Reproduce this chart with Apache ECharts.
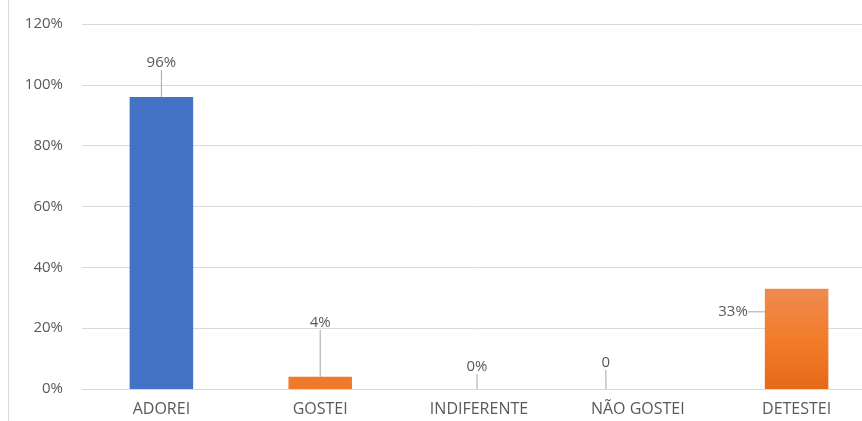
<!DOCTYPE html>
<html>
<head>
<meta charset="utf-8">
<script src="https://cdn.jsdelivr.net/npm/echarts@6/dist/echarts.min.js"></script>
<style>
  html, body { margin: 0; padding: 0; background: #fff; }
  #chart { width: 862px; height: 421px; }
</style>
</head>
<body>
<div id="chart"></div>
<script>
// categorias e valores (fração)
var categories = ["ADOREI", "GOSTEI", "INDIFERENTE", "NÃO GOSTEI", "DETESTEI"];
var values = [0.96, 0.04, 0, 0, 0.33];
var labelTexts = ["96%", "4%", "0%", "0", "33%"];

var blue = "#4472C4";
var orange = "#F07A2C";

var chart = echarts.init(document.getElementById("chart"));

// deslocamento dos rótulos (como no original, com linha de chamada)
var labelShift = [
  { dx: 0, dy: -22 },
  { dx: 0, dy: -42 },
  { dx: -2, dy: -10 },
  { dx: -32, dy: -14 },
  { dx: -12, dy: -27 }
];

var barData = values.map(function (v, i) {
  var item = { value: v };
  if (i === 0) {
    item.itemStyle = { color: blue };
  } else if (i === 4) {
    item.itemStyle = {
      color: new echarts.graphic.LinearGradient(0, 0, 0, 1, [
        { offset: 0, color: "#EF8A50" },
        { offset: 0.5, color: "#F27C2A" },
        { offset: 1, color: "#E66A18" }
      ])
    };
    item.label = { position: "left" };
  } else {
    item.itemStyle = { color: orange };
  }
  return item;
});

chart.setOption({
  backgroundColor: "#fff",
  textStyle: { fontFamily: "Open Sans" },
  grid: { left: 82, width: 794, top: 24, bottom: 32, outerBoundsMode: "none", containLabel: false },
  graphic: [
    {
      type: "line",
      shape: { x1: 8.5, y1: 0, x2: 8.5, y2: 421 },
      style: { stroke: "#D9D9D9", lineWidth: 1 }
    }
  ],
  xAxis: {
    type: "category",
    data: categories,
    axisLine: { show: true, lineStyle: { color: "#D9D9D9" } },
    axisTick: { show: false },
    axisLabel: { color: "#595959", fontSize: 16, margin: 12 }
  },
  yAxis: {
    type: "value",
    min: 0,
    max: 1.2,
    interval: 0.2,
    axisLine: { show: false },
    axisTick: { show: false },
    splitLine: { lineStyle: { color: "#D9D9D9" } },
    axisLabel: {
      color: "#595959",
      fontSize: 15,
      margin: 19,
      formatter: function (v) { return Math.round(v * 100) + "%"; }
    }
  },
  series: [
    {
      type: "bar",
      data: barData,
      barWidth: "40%",
      label: {
        show: true,
        position: "top",
        color: "#595959",
        fontSize: 15,
        formatter: function (p) { return labelTexts[p.dataIndex]; }
      },
      labelLine: {
        show: true,
        lineStyle: { color: "#A6A6A6", width: 1 }
      },
      labelLayout: function (params) {
        return labelShift[params.dataIndex];
      }
    }
  ]
});
</script>
</body>
</html>
